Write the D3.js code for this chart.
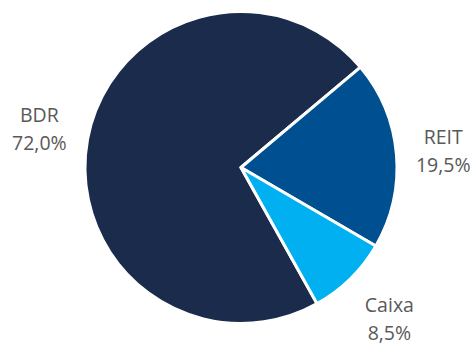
<!DOCTYPE html>
<html>
<head>
<meta charset="utf-8">
<script src="https://cdn.jsdelivr.net/npm/d3@7"></script>
<style>
  body { margin: 0; background: #fff; }
  svg { display: block; }
  .lbl { font-family: "Open Sans", sans-serif; font-size: 19.5px; fill: #595959; }
</style>
</head>
<body>
<svg width="475" height="345"></svg>
<script>
const categories = ["BDR", "REIT", "Caixa"];
const values = [72.0, 19.5, 8.5];
const colors = ["#1b2b4b", "#005091", "#00b0f0"];

const svg = d3.select("svg");
const cx = 241, cy = 167.5, radius = 156;

// o REIT começa a ~50° (sentido horário a partir do topo)
const start = (50 - values[0] * 3.6) * Math.PI / 180;

const pie = d3.pie()
  .sort(null)
  .startAngle(start)
  .endAngle(start + 2 * Math.PI)
  .value(d => d.value);

const data = categories.map((c, i) => ({ name: c, value: values[i], color: colors[i] }));
const arcs = pie(data);

const g = svg.append("g").attr("transform", "translate(" + cx + "," + cy + ")");

const arc = d3.arc().innerRadius(0).outerRadius(radius);
const labelArc = d3.arc().innerRadius(206).outerRadius(206);

g.selectAll(".slice")
  .data(arcs)
  .join("path")
  .attr("class", "slice")
  .attr("d", arc)
  .attr("fill", d => d.data.color)
  .attr("stroke", "#fff")
  .attr("stroke-width", 3)
  .attr("stroke-linejoin", "round");

// petits ajustements des étiquettes
const nudge = { BDR: [1, 0], REIT: [-3, 2], Caixa: [4, 6] };

const labels = g.selectAll(".lbl")
  .data(arcs)
  .join("text")
  .attr("class", "lbl")
  .attr("text-anchor", "middle")
  .attr("transform", d => {
    const p = labelArc.centroid(d);
    const n = nudge[d.data.name];
    return "translate(" + (p[0] + n[0]) + "," + (p[1] + n[1]) + ")";
  });

labels.append("tspan").attr("x", 0).attr("y", -8).text(d => d.data.name);
labels.append("tspan").attr("x", 0).attr("y", 20)
  .text(d => d.data.value.toFixed(1).replace(".", ",") + "%");
</script>
</body>
</html>
